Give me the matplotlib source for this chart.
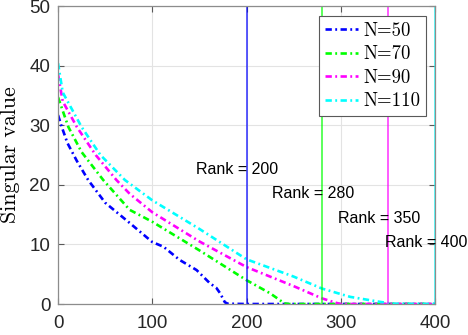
import matplotlib
matplotlib.use("Agg")
import matplotlib.pyplot as plt

# singular value curves
x50 = [0, 4, 10, 20, 32, 50, 76, 100, 112, 129, 147, 161, 168, 172, 177, 180, 200, 400]
y50 = [31.7, 29.7, 27.0, 24.0, 20.8, 17.0, 13.6, 10.4, 9.6, 7.4, 5.7, 3.5, 2.7, 1.8, 0.3, 0.05, 0, 0]

x70 = [0, 11, 25, 48, 76, 100, 150, 200, 225, 235, 240, 245, 400]
y70 = [34.7, 29.7, 25.5, 20.8, 15.8, 13.8, 9.0, 4.0, 1.8, 0.7, 0.1, 0, 0]

x90 = [0, 5, 20, 40, 62, 76, 100, 150, 200, 250, 280, 295, 300, 400]
y90 = [38.5, 34.0, 29.7, 25.0, 20.8, 18.5, 15.4, 10.5, 6.2, 3.0, 0.95, 0.2, 0, 0]

x110 = [0, 5, 25, 45, 71, 100, 150, 200, 250, 280, 310, 340, 355, 400]
y110 = [40.4, 35.5, 29.7, 25.0, 20.8, 17.4, 12.6, 7.5, 4.6, 2.6, 1.2, 0.4, 0.05, 0]

labels = ['N=50', 'N=70', 'N=90', 'N=110']
colors = ['#0000ff', '#00ff00', '#ff00ff', '#00ffff']
ranks = [200, 280, 350, 400]
rank_text_x = [146, 227, 297, 347]
rank_text_y = [22.5, 18.5, 14.4, 10.4]

fig = plt.figure(figsize=(4.68, 3.35), dpi=100)
ax = fig.add_axes([0.124, 0.0925, 0.8055, 0.8895])

for xs, ys, c, lab in zip([x50, x70, x90, x110], [y50, y70, y90, y110], colors, labels):
    ax.plot(xs, ys, color=c, linestyle=(0, (2.4, 1.3, 0.7, 1.3)), linewidth=1.9, label=lab)

for r, c in zip(ranks, colors):
    ax.plot([r, r], [0, 50], color=c, linewidth=1.2, alpha=0.75)

for r, tx, ty in zip(ranks, rank_text_x, rank_text_y):
    ax.text(tx, ty, f'Rank = {r}', fontsize=11.5, family='Liberation Sans', va='center', ha='left')

ax.set_xlim(0, 400)
ax.set_ylim(0, 50)
ax.set_xticks([0, 100, 200, 300, 400])
ax.set_yticks([0, 10, 20, 30, 40, 50])
ax.grid(True, color='#e3e3e3', linewidth=0.8)
ax.set_axisbelow(True)
ax.tick_params(direction='in', length=4, width=0.8, colors='0.35', labelcolor='#262626',
               labelsize=13.5, top=True, right=True)
ax.tick_params(axis='x', pad=8)
ax.tick_params(axis='y', pad=5.5)
for lab in ax.get_xticklabels() + ax.get_yticklabels():
    lab.set_family('Liberation Sans')
for sp in ax.spines.values():
    sp.set_color('0.55')
    sp.set_linewidth(0.9)

ax.set_ylabel('Singular value', family='cmr10', fontsize=15.8)
ax.yaxis.set_label_coords(-0.1, 0.503)

leg = ax.legend(loc='upper right', bbox_to_anchor=(0.975, 0.966), prop={'family': 'cmr10', 'size': 13.5},
                fancybox=False, edgecolor='0.35', framealpha=1, handlelength=1.8,
                labelspacing=0.3, borderpad=0.3, handletextpad=0.25, borderaxespad=0)
leg.get_frame().set_linewidth(0.8)

fig.savefig('out.png', dpi=100)
